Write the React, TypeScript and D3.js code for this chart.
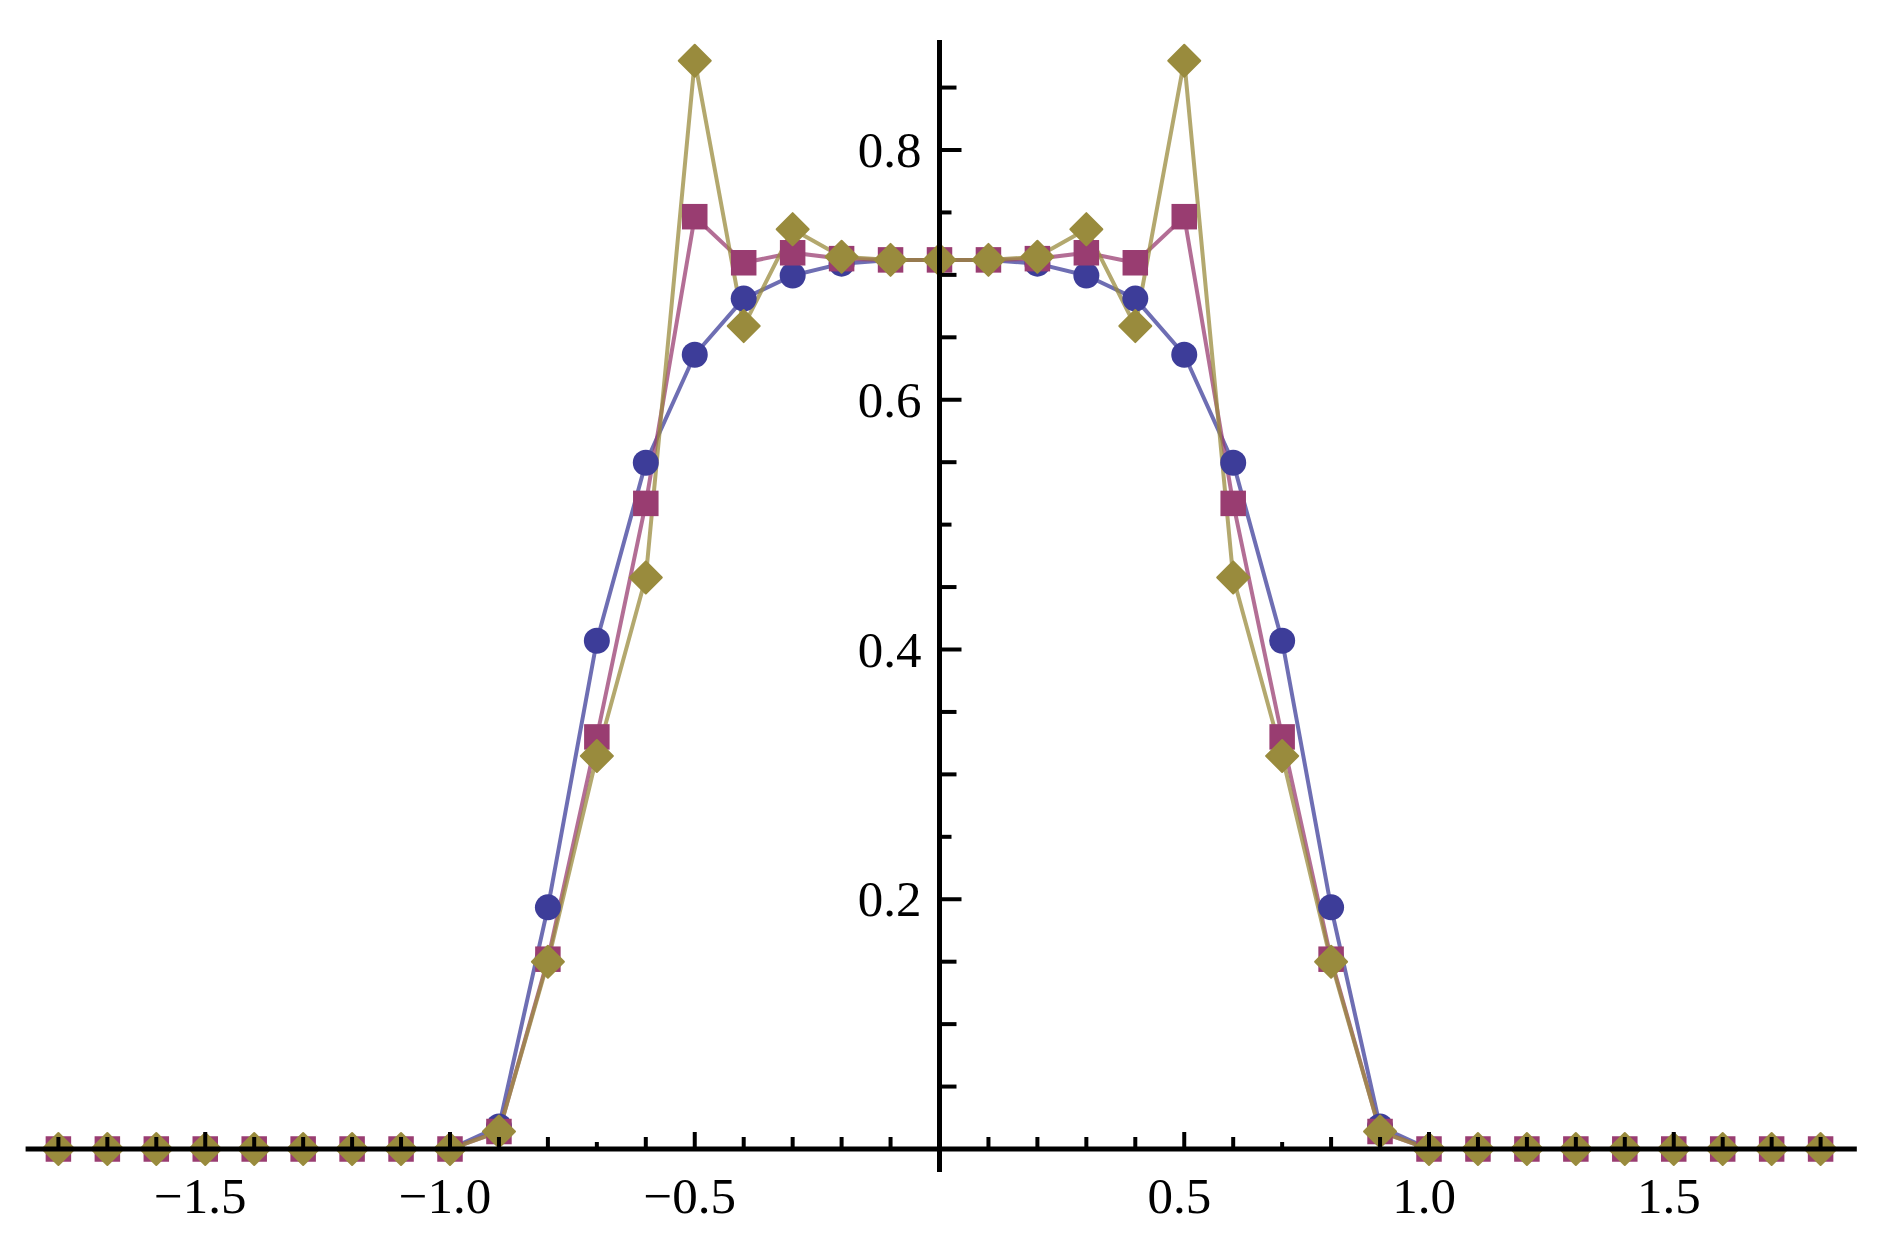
import React from "react";
import * as d3 from "d3";

// x categories (sample points)
const xValues = [
  -1.8, -1.7, -1.6, -1.5, -1.4, -1.3, -1.2, -1.1, -1.0,
  -0.9, -0.8, -0.7, -0.6, -0.5, -0.4, -0.3, -0.2, -0.1,
  0.0,
  0.1, 0.2, 0.3, 0.4, 0.5, 0.6, 0.7, 0.8, 0.9,
  1.0, 1.1, 1.2, 1.3, 1.4, 1.5, 1.6, 1.7, 1.8,
];

// series 1: blue circles
const seriesCircle = [
  0, 0, 0, 0, 0, 0, 0, 0, 0,
  0.018, 0.1935, 0.407, 0.5495, 0.636, 0.681, 0.6995, 0.709, 0.712,
  0.712,
  0.712, 0.709, 0.6995, 0.681, 0.636, 0.5495, 0.407, 0.1935, 0.018,
  0, 0, 0, 0, 0, 0, 0, 0, 0,
];

// series 2: magenta squares
const seriesSquare = [
  0, 0, 0, 0, 0, 0, 0, 0, 0,
  0.014, 0.152, 0.33, 0.517, 0.7466, 0.7097, 0.7177, 0.713, 0.712,
  0.712,
  0.712, 0.713, 0.7177, 0.7097, 0.7466, 0.517, 0.33, 0.152, 0.014,
  0, 0, 0, 0, 0, 0, 0, 0, 0,
];

// series 3: olive diamonds
const seriesDiamond = [
  0, 0, 0, 0, 0, 0, 0, 0, 0,
  0.014, 0.15, 0.3147, 0.4577, 0.8715, 0.659, 0.7366, 0.7145, 0.712,
  0.712,
  0.712, 0.7145, 0.7366, 0.659, 0.8715, 0.4577, 0.3147, 0.15, 0.014,
  0, 0, 0, 0, 0, 0, 0, 0, 0,
];

// axis ticks
const xTicks = [
  -1.8, -1.7, -1.6, -1.5, -1.4, -1.3, -1.2, -1.1, -1.0,
  -0.9, -0.8, -0.7, -0.6, -0.5, -0.4, -0.3, -0.2, -0.1,
  0.1, 0.2, 0.3, 0.4, 0.5, 0.6, 0.7, 0.8, 0.9,
  1.0, 1.1, 1.2, 1.3, 1.4, 1.5, 1.6, 1.7, 1.8,
];
const xMajor = [-1.5, -1.0, -0.5, 0.5, 1.0, 1.5];
const xShort = [-0.7, 0.7];
const xTickLabels = ["\u22121.5", "\u22121.0", "\u22120.5", "0.5", "1.0", "1.5"];

const yTicks = [
  0.05, 0.1, 0.15, 0.2, 0.25, 0.3, 0.35, 0.4, 0.45,
  0.5, 0.55, 0.6, 0.65, 0.7, 0.75, 0.8, 0.85,
];
const yMajor = [0.2, 0.4, 0.6, 0.8];
const yShort = [0.25, 0.5, 0.75];
const yTickLabels = ["0.2", "0.4", "0.6", "0.8"];

const xAxisExtent = [-1.867, 1.874];
const yAxisExtent = [-0.0184, 0.888];

const COLORS = ["#3d3d99", "#993d71", "#998b3d"];

const W = 1885;
const H = 1237;

const near = (a: number, list: number[]) => list.some((v) => Math.abs(v - a) < 1e-6);

export default function App() {
  const x = d3.scaleLinear().domain([-1, 1]).range([450, 1429]);
  const y = d3.scaleLinear().domain([0, 0.8]).range([1149, 150]);

  const series = [seriesCircle, seriesSquare, seriesDiamond];
  const line = d3
    .line<number>()
    .x((_, i) => x(xValues[i]))
    .y((d) => y(d));

  const x0 = x(0);
  const y0 = y(0);
  const fontSize = 51;
  const font = "'Liberation Serif', 'Times New Roman', serif";

  const r = 13;
  const sq = 25.5;
  const dm = 16;

  return (
    <svg
      width={W}
      height={H}
      style={{ position: "absolute", left: 0, top: 0, background: "#fff" }}
    >
      <rect x={0} y={0} width={W} height={H} fill="#fff" />
      {/* lines */}
      {series.map((s, k) => (
        <path
          key={"l" + k}
          d={line(s) || ""}
          fill="none"
          stroke={COLORS[k]}
          strokeWidth={4}
          strokeOpacity={0.75}
          strokeLinejoin="round"
        />
      ))}
      {/* markers */}
      {seriesCircle.map((v, i) => (
        <circle key={"c" + i} cx={x(xValues[i])} cy={y(v)} r={r} fill={COLORS[0]} />
      ))}
      {seriesSquare.map((v, i) => (
        <rect
          key={"s" + i}
          x={x(xValues[i]) - sq / 2}
          y={y(v) - sq / 2}
          width={sq}
          height={sq}
          fill={COLORS[1]}
        />
      ))}
      {seriesDiamond.map((v, i) => {
        const cx = x(xValues[i]);
        const cy = y(v);
        return (
          <polygon
            key={"d" + i}
            points={`${cx},${cy - dm} ${cx + dm},${cy} ${cx},${cy + dm} ${cx - dm},${cy}`}
            fill={COLORS[2]}
            stroke={COLORS[2]}
            strokeWidth={2}
            strokeLinejoin="round"
          />
        );
      })}
      {/* axes */}
      <line
        x1={x(xAxisExtent[0])}
        x2={x(xAxisExtent[1])}
        y1={y0}
        y2={y0}
        stroke="#000"
        strokeWidth={5}
      />
      <line
        x1={x0}
        x2={x0}
        y1={y(yAxisExtent[0])}
        y2={y(yAxisExtent[1])}
        stroke="#000"
        strokeWidth={5}
      />
      {xTicks.map((t) => {
        const len = near(t, xMajor) ? 17 : near(t, xShort) ? 7 : 12;
        return (
          <line
            key={"xt" + t}
            x1={x(t)}
            x2={x(t)}
            y1={y0}
            y2={y0 - len}
            stroke="#000"
            strokeWidth={4}
          />
        );
      })}
      {yTicks.map((t) => {
        const len = near(t, yMajor) ? 22 : near(t, yShort) ? 12 : 17;
        return (
          <line
            key={"yt" + t}
            x1={x0}
            x2={x0 + len}
            y1={y(t)}
            y2={y(t)}
            stroke="#000"
            strokeWidth={4}
          />
        );
      })}
      {/* tick labels */}
      {xMajor.map((t, i) => (
        <text
          key={"xl" + i}
          x={x(t) - 5}
          y={y0 + 64}
          textAnchor="middle"
          fontFamily={font}
          fontSize={fontSize}
          fill="#000"
        >
          {xTickLabels[i]}
        </text>
      ))}
      {yMajor.map((t, i) => (
        <text
          key={"yl" + i}
          x={x0 - 18}
          y={y(t) + fontSize * 0.338}
          textAnchor="end"
          fontFamily={font}
          fontSize={fontSize}
          fill="#000"
        >
          {yTickLabels[i]}
        </text>
      ))}
    </svg>
  );
}
